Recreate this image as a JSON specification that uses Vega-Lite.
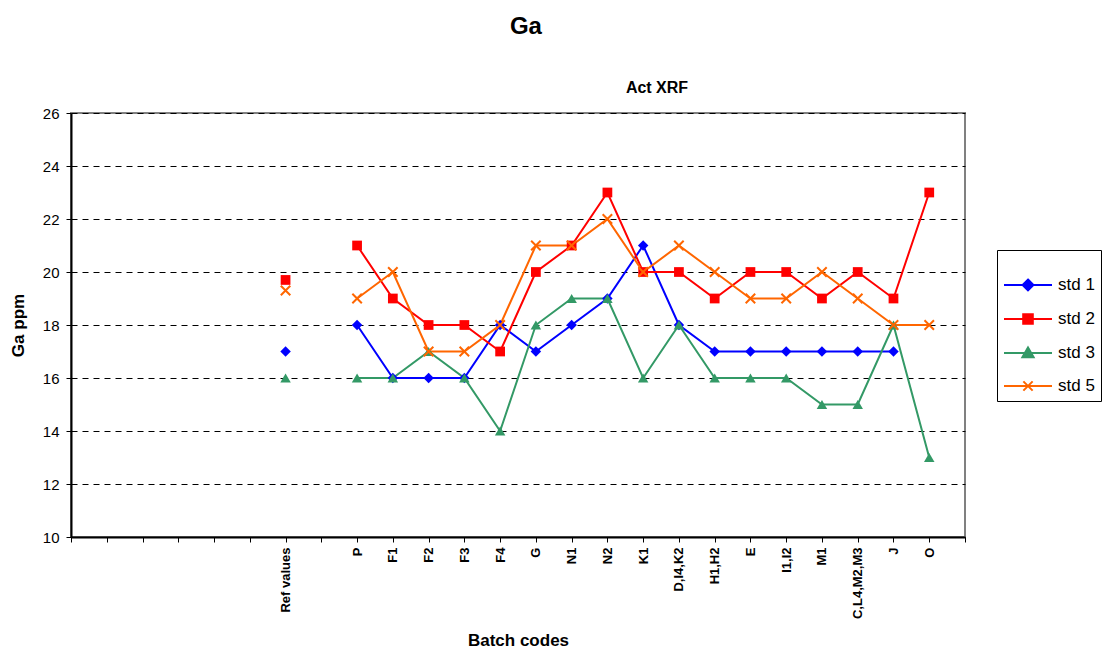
{
  "$schema": "https://vega.github.io/schema/vega-lite/v6.json",
  "padding": {"left": 8, "top": 15, "right": 0, "bottom": 0},
  "title": {"text": "Ga", "fontSize": 24, "font": "Liberation Sans", "fontWeight": "bold", "anchor": "middle", "dx": -29, "color": "black", "offset": 40},
  "data": {"values": [
    {"cat": "Ref values", "std": "std 1", "ppm": 17},
    {"cat": "Ref values", "std": "std 2", "ppm": 19.7},
    {"cat": "Ref values", "std": "std 3", "ppm": 16},
    {"cat": "Ref values", "std": "std 5", "ppm": 19.3},
    {"cat": "P", "std": "std 1", "ppm": 18}, {"cat": "F1", "std": "std 1", "ppm": 16}, {"cat": "F2", "std": "std 1", "ppm": 16}, {"cat": "F3", "std": "std 1", "ppm": 16}, {"cat": "F4", "std": "std 1", "ppm": 18}, {"cat": "G", "std": "std 1", "ppm": 17}, {"cat": "N1", "std": "std 1", "ppm": 18}, {"cat": "N2", "std": "std 1", "ppm": 19}, {"cat": "K1", "std": "std 1", "ppm": 21}, {"cat": "D,I4,K2", "std": "std 1", "ppm": 18}, {"cat": "H1,H2", "std": "std 1", "ppm": 17}, {"cat": "E", "std": "std 1", "ppm": 17}, {"cat": "I1,I2", "std": "std 1", "ppm": 17}, {"cat": "M1", "std": "std 1", "ppm": 17}, {"cat": "C,L4,M2,M3", "std": "std 1", "ppm": 17}, {"cat": "J", "std": "std 1", "ppm": 17},
    {"cat": "P", "std": "std 2", "ppm": 21}, {"cat": "F1", "std": "std 2", "ppm": 19}, {"cat": "F2", "std": "std 2", "ppm": 18}, {"cat": "F3", "std": "std 2", "ppm": 18}, {"cat": "F4", "std": "std 2", "ppm": 17}, {"cat": "G", "std": "std 2", "ppm": 20}, {"cat": "N1", "std": "std 2", "ppm": 21}, {"cat": "N2", "std": "std 2", "ppm": 23}, {"cat": "K1", "std": "std 2", "ppm": 20}, {"cat": "D,I4,K2", "std": "std 2", "ppm": 20}, {"cat": "H1,H2", "std": "std 2", "ppm": 19}, {"cat": "E", "std": "std 2", "ppm": 20}, {"cat": "I1,I2", "std": "std 2", "ppm": 20}, {"cat": "M1", "std": "std 2", "ppm": 19}, {"cat": "C,L4,M2,M3", "std": "std 2", "ppm": 20}, {"cat": "J", "std": "std 2", "ppm": 19}, {"cat": "O", "std": "std 2", "ppm": 23},
    {"cat": "P", "std": "std 3", "ppm": 16}, {"cat": "F1", "std": "std 3", "ppm": 16}, {"cat": "F2", "std": "std 3", "ppm": 17}, {"cat": "F3", "std": "std 3", "ppm": 16}, {"cat": "F4", "std": "std 3", "ppm": 14}, {"cat": "G", "std": "std 3", "ppm": 18}, {"cat": "N1", "std": "std 3", "ppm": 19}, {"cat": "N2", "std": "std 3", "ppm": 19}, {"cat": "K1", "std": "std 3", "ppm": 16}, {"cat": "D,I4,K2", "std": "std 3", "ppm": 18}, {"cat": "H1,H2", "std": "std 3", "ppm": 16}, {"cat": "E", "std": "std 3", "ppm": 16}, {"cat": "I1,I2", "std": "std 3", "ppm": 16}, {"cat": "M1", "std": "std 3", "ppm": 15}, {"cat": "C,L4,M2,M3", "std": "std 3", "ppm": 15}, {"cat": "J", "std": "std 3", "ppm": 18}, {"cat": "O", "std": "std 3", "ppm": 13},
    {"cat": "P", "std": "std 5", "ppm": 19}, {"cat": "F1", "std": "std 5", "ppm": 20}, {"cat": "F2", "std": "std 5", "ppm": 17}, {"cat": "F3", "std": "std 5", "ppm": 17}, {"cat": "F4", "std": "std 5", "ppm": 18}, {"cat": "G", "std": "std 5", "ppm": 21}, {"cat": "N1", "std": "std 5", "ppm": 21}, {"cat": "N2", "std": "std 5", "ppm": 22}, {"cat": "K1", "std": "std 5", "ppm": 20}, {"cat": "D,I4,K2", "std": "std 5", "ppm": 21}, {"cat": "H1,H2", "std": "std 5", "ppm": 20}, {"cat": "E", "std": "std 5", "ppm": 19}, {"cat": "I1,I2", "std": "std 5", "ppm": 19}, {"cat": "M1", "std": "std 5", "ppm": 20}, {"cat": "C,L4,M2,M3", "std": "std 5", "ppm": 19}, {"cat": "J", "std": "std 5", "ppm": 18}, {"cat": "O", "std": "std 5", "ppm": 18}
  ]},
  "vconcat": [
    {
      "title": {"text": "Act XRF", "fontSize": 16, "font": "Liberation Sans", "fontWeight": "bold", "anchor": "middle", "dx": 139, "color": "black", "offset": 10},
      "width": 894,
      "height": 424,
      "encoding": {
        "x": {
          "field": "cat", "type": "ordinal",
          "scale": {"type": "point", "padding": 0, "domain": ["_0", "_1", "_2", "_3", "_4", "_5", "Ref values", "_7", "P", "F1", "F2", "F3", "F4", "G", "N1", "N2", "K1", "D,I4,K2", "H1,H2", "E", "I1,I2", "M1", "C,L4,M2,M3", "J", "O", "_25"]},
          "axis": {
            "title": "Batch codes", "labelAngle": 270, "labelAlign": "right", "labelBaseline": "middle",
            "labelExpr": "indexof(datum.value, '_') == 0 ? '' : datum.value",
            "labelFont": "Liberation Sans", "labelFontSize": 13, "labelFontWeight": "bold", "labelColor": "black",
            "tickSize": 5, "tickColor": "black", "labelPadding": 5, "domainColor": "black", "domainWidth": 2,
            "titleFont": "Liberation Sans", "titleFontSize": 17, "titleFontWeight": "bold", "titleColor": "black", "titlePadding": 14,
            "grid": false
          }
        },
        "y": {
          "field": "ppm", "type": "quantitative",
          "scale": {"domain": [10, 26], "nice": false, "zero": false},
          "axis": {
            "title": "Ga ppm", "values": [10, 12, 14, 16, 18, 20, 22, 24, 26],
            "labelFont": "Liberation Sans", "labelFontSize": 15, "labelColor": "black",
            "tickSize": 5, "tickColor": "black", "labelPadding": 7, "domainColor": "black", "domainWidth": 2,
            "titleFont": "Liberation Sans", "titleFontSize": 17, "titleFontWeight": "bold", "titleColor": "black", "titlePadding": 15,
            "grid": true, "gridColor": "black", "gridDash": [6, 5], "gridWidth": 1
          }
        },
        "color": {
          "field": "std", "type": "nominal",
          "scale": {"domain": ["std 1", "std 2", "std 3", "std 5"], "range": ["#0000FF", "#FF0000", "#339966", "#FF6600"]},
          "legend": {
            "title": " ", "titleFontSize": 2, "titlePadding": 18,
            "encode": {
              "symbols": {
                "update": {
                  "shape": {"signal": "datum.value == 'std 1' ? 'M-1,0H5M2,-0.68L2.68,0L2,0.68L1.32,0Z' : datum.value == 'std 2' ? 'M-1,0H5M1.4,-0.6H2.6V0.6H1.4Z' : datum.value == 'std 3' ? 'M-1,0H5M2,-0.68L2.7,0.52H1.3Z' : 'M-1,0H5M1.42,-0.58L2.58,0.58M1.42,0.58L2.58,-0.58'"},
                  "fill": {"scale": "color", "field": "value"},
                  "stroke": {"scale": "color", "field": "value"},
                  "strokeWidth": {"value": 2},
                  "size": {"value": 256},
                  "opacity": {"value": 1}
                }
              }
            }
          }
        }
      },
      "layer": [
        {
          "transform": [{"filter": "datum.cat != 'Ref values'"}],
          "mark": {"type": "line", "strokeWidth": 2}
        },
        {
          "transform": [{"filter": "datum.std == 'std 1'"}],
          "mark": {"type": "point", "shape": "diamond", "filled": true, "opacity": 1, "size": 110}
        },
        {
          "transform": [{"filter": "datum.std == 'std 2'"}],
          "mark": {"type": "point", "shape": "square", "filled": true, "opacity": 1, "size": 95}
        },
        {
          "transform": [{"filter": "datum.std == 'std 3'"}],
          "mark": {"type": "point", "shape": "triangle-up", "filled": true, "opacity": 1, "size": 110}
        },
        {
          "transform": [{"filter": "datum.std == 'std 5'"}],
          "mark": {"type": "point", "shape": "M-1,-1L1,1M-1,1L1,-1", "filled": false, "opacity": 1, "strokeWidth": 2, "size": 90}
        }
      ]
    }
  ],
  "config": {
    "view": {"stroke": "#808080", "strokeWidth": 2},
    "legend": {
      "orient": "none", "legendX": 926, "legendY": 137,
      "strokeColor": "black", "padding": 6, "labelFont": "Liberation Sans", "labelFontSize": 17, "labelColor": "black",
      "symbolSize": 256, "symbolStrokeWidth": 2, "rowPadding": 15, "labelOffset": 37
    }
  }
}
